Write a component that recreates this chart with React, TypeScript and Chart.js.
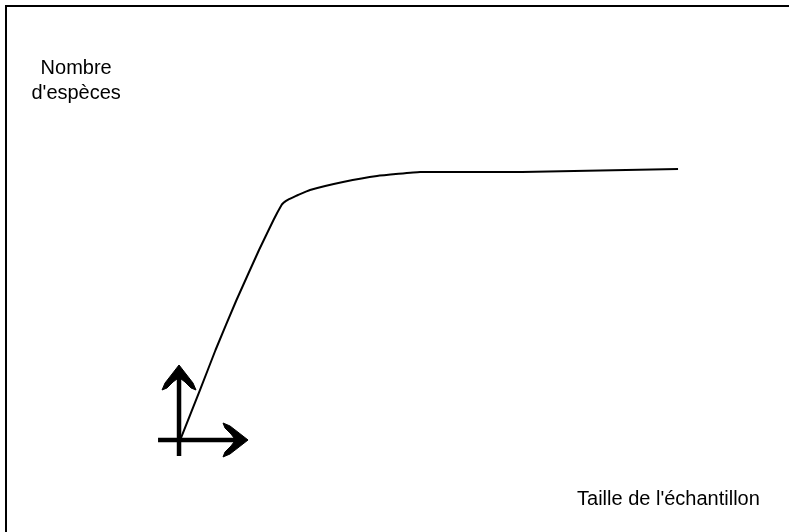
import React, { useEffect, useRef } from "react";
import { Chart, registerables } from "chart.js";

Chart.register(...registerables);

// Species accumulation curve: sample size -> number of species
const sampleSize = [0.4, 4.21, 7.31, 11.51, 16.02, 18.92, 20.53, 20.93, 21.43, 22.03, 22.83, 23.83, 26.23, 32.84, 39.65, 48.26, 68.69, 99.93];
const speciesCount = [0.8, 18.42, 33.15, 51.57, 69.99, 81.05, 86.57, 87.38, 88.08, 88.71, 89.41, 90.26, 92.1, 95.05, 97.26, 98.73, 98.73, 99.84];

// Axis arrows (in data units)
const yShaftX = [0, 0];
const yShaftY = [-5.9, 22.6];
const yHeadX = [0, 1.4, 2.8, 3.4, 2.4, 1.2, 0.4, -0.4, -1.2, -2.4, -3.4, -2.8, -1.4, 0];
const yHeadY = [27.63, 24.31, 20.99, 18.42, 19.16, 21.37, 22.47, 22.47, 21.37, 19.16, 18.42, 20.99, 24.31, 27.63];
const xShaftX = [-4.2, 11.1];
const xShaftY = [0, 0];
const xHeadX = [13.82, 12.02, 10.21, 8.81, 9.21, 10.41, 11.01, 11.01, 10.41, 9.21, 8.81, 10.21, 12.02, 13.82];
const xHeadY = [0, 2.58, 5.16, 6.26, 4.42, 2.21, 0.74, -0.74, -2.21, -4.42, -6.26, -5.16, -2.58, 0];

// Axis titles
const yTitleLines = ["Nombre", "d'espèces"];
const yTitleAnchorX = -20.6;
const yTitleAnchorY = [134.8, 125.6];
const xTitle = "Taille de l'échantillon";
const xTitleAnchorX = 79.7;
const xTitleAnchorY = -24.0;

const X_MIN = -35.85;
const X_MAX = 122.15;
const Y_MIN = -33.9;
const Y_MAX = 162.1;

const zip = (xs: number[], ys: number[]) => xs.map((x, i) => ({ x, y: ys[i] }));

const titlesPlugin = {
  id: "titles",
  afterDatasetsDraw(chart: any) {
    const { ctx, scales } = chart;
    const sx = scales.x;
    const sy = scales.y;
    ctx.save();
    ctx.fillStyle = "#000";
    ctx.font = '20px "Liberation Sans", Arial, sans-serif';
    ctx.textBaseline = "alphabetic";
    ctx.textAlign = "center";
    yTitleLines.forEach((line, i) => {
      ctx.fillText(line, sx.getPixelForValue(yTitleAnchorX), sy.getPixelForValue(yTitleAnchorY[i]));
    });
    ctx.textAlign = "left";
    ctx.fillText(xTitle, sx.getPixelForValue(xTitleAnchorX), sy.getPixelForValue(xTitleAnchorY));
    ctx.restore();
  },
};

export default function App() {
  const canvasRef = useRef<HTMLCanvasElement>(null);

  useEffect(() => {
    if (!canvasRef.current) return;
    const shaftStyle = {
      borderColor: "#000",
      borderWidth: 4.5,
      pointRadius: 0,
      showLine: true,
      tension: 0,
      borderCapStyle: "butt" as const,
    };
    const headStyle = {
      borderColor: "#000",
      backgroundColor: "#000",
      borderWidth: 1,
      pointRadius: 0,
      showLine: true,
      tension: 0,
      fill: "shape" as const,
      borderJoinStyle: "miter" as const,
    };
    const chart = new Chart(canvasRef.current, {
      type: "scatter",
      data: {
        datasets: [
          {
            data: zip(sampleSize, speciesCount),
            borderColor: "#000",
            borderWidth: 2,
            pointRadius: 0,
            showLine: true,
            tension: 0.1,
            borderJoinStyle: "round",
          },
          { data: zip(yShaftX, yShaftY), ...shaftStyle },
          { data: zip(yHeadX, yHeadY), ...headStyle },
          { data: zip(xShaftX, xShaftY), ...shaftStyle },
          { data: zip(xHeadX, xHeadY), ...headStyle },
        ],
      },
      options: {
        animation: false,
        responsive: false,
        layout: { padding: 0 },
        plugins: { legend: { display: false }, tooltip: { enabled: false }, filler: { propagate: false } },
        scales: {
          x: { type: "linear", min: X_MIN, max: X_MAX, display: false },
          y: { type: "linear", min: Y_MIN, max: Y_MAX, display: false },
        },
      },
      plugins: [titlesPlugin],
    });
    return () => chart.destroy();
  }, []);

  return (
    <div
      style={{
        position: "fixed",
        left: 0,
        top: 0,
        width: 789,
        height: 532,
        overflow: "hidden",
        background: "#fff",
      }}
    >
      <div
        style={{
          position: "absolute",
          left: 5,
          top: 5,
          width: 820,
          height: 560,
          borderLeft: "2px solid #000",
          borderTop: "2px solid #000",
        }}
      />
      <canvas
        ref={canvasRef}
        width={789}
        height={532}
        style={{ position: "absolute", left: 0, top: 0, width: 789, height: 532 }}
      />
    </div>
  );
}
